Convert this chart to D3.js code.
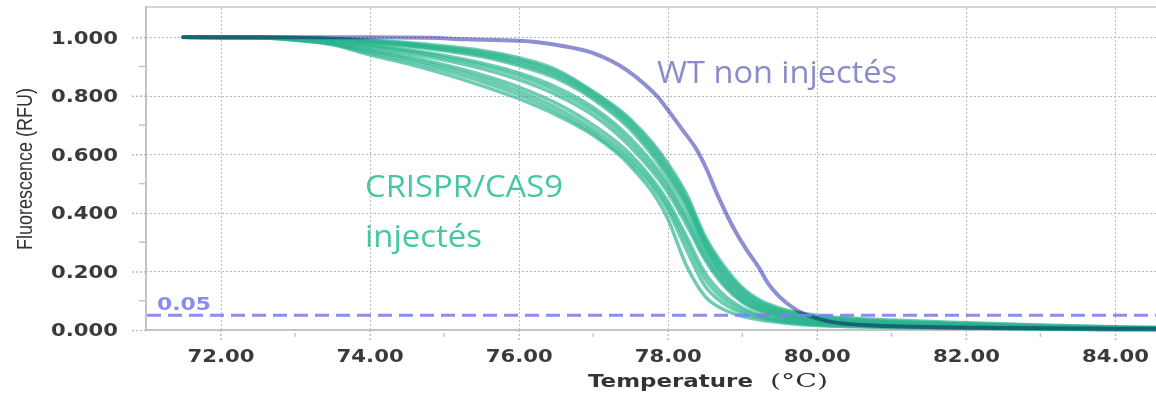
<!DOCTYPE html>
<html>
<head>
<meta charset="utf-8">
<script src="https://cdn.jsdelivr.net/npm/d3@7"></script>
<style>
  body { margin: 0; background: #fff; }
  .tick-label { font-family: "DejaVu Sans", Verdana, sans-serif; font-weight: bold; font-size: 18px; fill: #3a3a3a; }
</style>
</head>
<body>
<div class="melt"></div>
<script>
var svgWidth = 1156;
var svgHeight = 396;

// axis ticks
var xTicks = [72, 74, 76, 78, 80, 82, 84];
var xMinorTicks = [73, 75, 77, 79, 81, 83];
var yTicks = [0, 0.2, 0.4, 0.6, 0.8, 1.0];
var yMinorTicks = [0.1, 0.3, 0.5, 0.7, 0.9];
var threshold = 0.05;

// WT non injectés melt curve
var wtTemps = [71.5, 73.0, 74.0, 74.8, 75.3, 75.8, 76.2, 76.55, 77.0, 77.45, 77.67, 77.9, 78.03, 78.2, 78.39, 78.52, 78.67, 78.92, 79.06, 79.23, 79.33, 79.5, 79.73, 79.95, 80.21, 80.7, 81.5, 82.5, 83.5, 84.55];
var wtValues = [1.0, 1.0, 1.0, 0.998, 0.993, 0.99, 0.985, 0.972, 0.946, 0.888, 0.844, 0.786, 0.742, 0.683, 0.615, 0.55, 0.46, 0.331, 0.273, 0.21, 0.165, 0.113, 0.068, 0.044, 0.027, 0.016, 0.01, 0.007, 0.005, 0.004];

// CRISPR/CAS9 injectés melt curves (same temperature steps)
var injTemps = [71.5, 72.5, 73.0, 73.5, 74.0, 74.5, 75.0, 75.5, 76.0, 76.5, 77.0, 77.5, 78.0, 78.25, 78.5, 78.75, 79.0, 79.25, 79.5, 80.0, 80.5, 81.0, 82.0, 83.0, 84.0, 84.55];
var inj1 = [1, 1, .999, .996, .99, .982, .97, .955, .93, .89, .815, .72, .57, .465, .32, .22, .145, .10, .075, .05, .04, .034, .025, .017, .011, .009];
var inj2 = [1, 1, .999, .995, .988, .979, .966, .95, .924, .883, .81, .712, .558, .452, .31, .21, .138, .094, .07, .046, .036, .03, .022, .015, .01, .008];
var inj3 = [1, 1, .998, .994, .986, .976, .962, .944, .917, .876, .803, .703, .546, .44, .30, .20, .13, .088, .065, .042, .033, .027, .02, .013, .008, .007];
var inj4 = [1, 1, .998, .993, .984, .973, .958, .939, .91, .868, .796, .694, .535, .43, .29, .19, .122, .082, .06, .038, .03, .024, .018, .012, .007, .006];
var inj5 = [1, .999, .997, .992, .982, .97, .954, .934, .903, .86, .788, .684, .522, .415, .28, .181, .116, .078, .056, .035, .027, .022, .016, .011, .006, .005];
var inj6 = [1, .999, .996, .988, .975, .958, .938, .912, .878, .83, .76, .655, .50, .39, .265, .17, .107, .072, .052, .032, .024, .019, .014, .009, .005, .004];
var inj7 = [1, .999, .995, .986, .971, .953, .931, .904, .868, .818, .748, .64, .485, .375, .25, .16, .10, .067, .048, .029, .022, .017, .012, .008, .004, .003];
var inj8 = [1, .999, .994, .983, .966, .946, .922, .893, .855, .804, .733, .625, .47, .36, .24, .152, .095, .063, .045, .027, .02, .015, .011, .007, .004, .003];
var inj9 = [1, .998, .993, .98, .958, .935, .906, .872, .83, .775, .70, .60, .44, .32, .195, .12, .076, .051, .037, .023, .017, .013, .009, .005, .003, .002];
var inj10 = [1, .998, .992, .978, .953, .928, .897, .861, .817, .76, .685, .585, .425, .30, .175, .105, .067, .046, .034, .02, .015, .011, .008, .004, .002, .002];
var inj11 = [1, .998, .991, .976, .947, .92, .887, .849, .804, .747, .673, .572, .41, .275, .15, .09, .058, .041, .03, .018, .013, .01, .007, .004, .002, .001];
var inj12 = [1, .998, .99, .975, .94, .91, .875, .835, .79, .735, .665, .56, .38, .22, .115, .07, .047, .034, .026, .015, .011, .008, .006, .003, .001, .001];

var injCurves = [inj1, inj2, inj3, inj4, inj5, inj6, inj7, inj8, inj9, inj10, inj11, inj12];

var svg = d3.select(".melt")
  .append("svg")
  .attr("width", svgWidth)
  .attr("height", svgHeight)
  .style("display", "block");

svg.append("rect")
  .attr("width", svgWidth)
  .attr("height", svgHeight)
  .attr("fill", "#fff");

var x = d3.scaleLinear().domain([71, 84.55]).range([146, 1156]);
var y = d3.scaleLinear().domain([0, 1.1]).range([330, 8]);

// dotted grid (snapped to whole pixels so the dots stay visible)
svg.append("g").selectAll("line")
  .data(yTicks.slice(1))
  .enter()
  .append("line")
  .attr("x1", 146).attr("x2", svgWidth)
  .attr("y1", d => Math.round(y(d)) + 0.5).attr("y2", d => Math.round(y(d)) + 0.5)
  .attr("stroke", "#b8b8b8")
  .attr("stroke-width", 1)
  .attr("stroke-dasharray", "2,2");

svg.append("g").selectAll("line")
  .data(xTicks)
  .enter()
  .append("line")
  .attr("x1", d => Math.round(x(d)) + 0.5).attr("x2", d => Math.round(x(d)) + 0.5)
  .attr("y1", 8).attr("y2", 330)
  .attr("stroke", "#bcbcbc")
  .attr("stroke-width", 1)
  .attr("stroke-dasharray", "2,2");

// frame lines
svg.append("line").attr("x1", 146).attr("x2", svgWidth).attr("y1", 7).attr("y2", 7)
  .attr("stroke", "#d6d6d6").attr("stroke-width", 2);
svg.append("line").attr("x1", 146).attr("x2", 146).attr("y1", 6).attr("y2", 331)
  .attr("stroke", "#c4c4c4").attr("stroke-width", 2);
svg.append("line").attr("x1", 145).attr("x2", svgWidth).attr("y1", 330).attr("y2", 330)
  .attr("stroke", "#c4c4c4").attr("stroke-width", 2);

// axes
var bottomAxis = d3.axisBottom(x)
  .tickValues(xTicks)
  .tickFormat(d3.format(".2f"))
  .tickSize(10)
  .tickPadding(9);

var leftAxis = d3.axisLeft(y)
  .tickValues(yTicks)
  .tickFormat(d3.format(".3f"))
  .tickSize(16)
  .tickPadding(12);

var xAxisG = svg.append("g")
  .attr("transform", "translate(0,330)")
  .call(bottomAxis);

var yAxisG = svg.append("g")
  .attr("transform", "translate(146,0)")
  .call(leftAxis);

[xAxisG, yAxisG].forEach(function(g) {
  g.select(".domain").remove();
  g.selectAll(".tick line")
    .attr("stroke", "#bcbcbc")
    .attr("stroke-width", 1.5)
    .attr("stroke-dasharray", "2,2");
  g.selectAll(".tick text")
    .attr("class", "tick-label")
    .attr("textLength", 67)
    .attr("lengthAdjust", "spacingAndGlyphs");
});

// minor ticks
svg.append("g").selectAll("line")
  .data(xMinorTicks)
  .enter()
  .append("line")
  .attr("x1", d => x(d)).attr("x2", d => x(d))
  .attr("y1", 333).attr("y2", 337)
  .attr("stroke", "#c4c4c4")
  .attr("stroke-width", 1.5);

svg.append("g").selectAll("line")
  .data(yMinorTicks)
  .enter()
  .append("line")
  .attr("x1", 139).attr("x2", 146)
  .attr("y1", d => y(d)).attr("y2", d => y(d))
  .attr("stroke", "#c4c4c4")
  .attr("stroke-width", 1.5);

// melt curves
var line = d3.line().curve(d3.curveMonotoneX);

svg.append("g").selectAll("path")
  .data(injCurves)
  .enter()
  .append("path")
  .attr("d", vals => line(vals.map((v, i) => [x(injTemps[i]), y(v)])))
  .attr("fill", "none")
  .attr("stroke", "#2ab48d")
  .attr("stroke-width", 3.5)
  .attr("stroke-opacity", 0.68)
  .attr("stroke-linecap", "round");

svg.append("path")
  .attr("d", line(wtValues.map((v, i) => [x(wtTemps[i]), y(v)])))
  .attr("fill", "none")
  .attr("stroke", "#8e8ed2")
  .attr("stroke-width", 4)
  .attr("stroke-linecap", "round")
  .style("mix-blend-mode", "multiply");

// threshold
svg.append("line")
  .attr("x1", 147).attr("x2", svgWidth)
  .attr("y1", y(threshold)).attr("y2", y(threshold))
  .attr("stroke", "#7f7ff2")
  .attr("stroke-opacity", 0.9)
  .attr("stroke-width", 3)
  .attr("stroke-dasharray", "14,7");

svg.append("text")
  .attr("class", "tick-label")
  .attr("x", 157).attr("y", 310)
  .attr("textLength", 54)
  .attr("lengthAdjust", "spacingAndGlyphs")
  .style("fill", "#8a8af2")
  .style("font-size", "17px")
  .text("0.05");

// axis titles
svg.append("text")
  .attr("transform", "translate(32,169) rotate(-90)")
  .attr("text-anchor", "middle")
  .attr("textLength", 162)
  .attr("lengthAdjust", "spacingAndGlyphs")
  .style("font-family", "'Liberation Sans Narrow', 'Liberation Sans', Arial, sans-serif")
  .style("font-size", "22px")
  .style("fill", "#333")
  .text("Fluorescence (RFU)");

svg.append("text")
  .attr("x", 588).attr("y", 387)
  .attr("textLength", 165)
  .attr("lengthAdjust", "spacingAndGlyphs")
  .style("font-family", "'DejaVu Sans', Verdana, sans-serif")
  .style("font-weight", "bold")
  .style("font-size", "18px")
  .style("fill", "#333")
  .text("Temperature");

svg.append("text")
  .attr("x", 770).attr("y", 387)
  .attr("textLength", 58)
  .attr("lengthAdjust", "spacingAndGlyphs")
  .style("font-family", "'DejaVu Serif', 'Liberation Serif', serif")
  .style("font-size", "19px")
  .style("fill", "#333")
  .text("(°C)");

// annotations
svg.append("text")
  .attr("x", 657).attr("y", 83)
  .attr("textLength", 240)
  .attr("lengthAdjust", "spacingAndGlyphs")
  .style("font-family", "'Open Sans', 'Noto Sans', sans-serif")
  .style("font-size", "31px")
  .style("fill", "#8b8cc7")
  .text("WT non injectés");

svg.append("text")
  .attr("x", 365).attr("y", 197)
  .attr("textLength", 198)
  .attr("lengthAdjust", "spacingAndGlyphs")
  .style("font-family", "'Open Sans', 'Noto Sans', sans-serif")
  .style("font-size", "31px")
  .style("fill", "#45c8a2")
  .text("CRISPR/CAS9");

svg.append("text")
  .attr("x", 365).attr("y", 247)
  .attr("textLength", 117)
  .attr("lengthAdjust", "spacingAndGlyphs")
  .style("font-family", "'Open Sans', 'Noto Sans', sans-serif")
  .style("font-size", "31px")
  .style("fill", "#45c8a2")
  .text("injectés");
</script>
</body>
</html>
